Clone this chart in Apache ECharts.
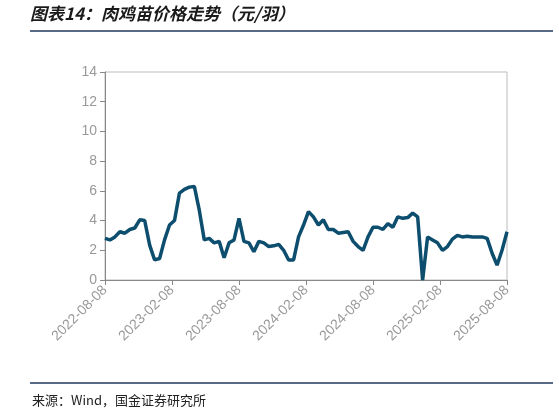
<!DOCTYPE html><html><head><meta charset="utf-8"><script src="https://cdn.jsdelivr.net/npm/echarts@6/dist/echarts.min.js"></script></head><body style="margin:0;background:#fff"><div id="c" style="width:559px;height:416px"></div><script>
const tickLabels=['2022-08-08','2023-02-08','2023-08-08','2024-02-08','2024-08-08','2025-02-08','2025-08-08'];
const prices=[2.8,2.7,2.9,3.25,3.15,3.4,3.5,4.05,4.0,2.35,1.35,1.45,2.7,3.7,4.0,5.85,6.1,6.25,6.3,4.7,2.7,2.8,2.5,2.6,1.5,2.5,2.7,4.15,2.6,2.5,1.9,2.6,2.5,2.25,2.3,2.4,2.0,1.35,1.35,2.9,3.7,4.6,4.25,3.7,4.05,3.4,3.4,3.15,3.2,3.25,2.6,2.25,2.0,2.9,3.55,3.55,3.4,3.8,3.55,4.25,4.15,4.2,4.5,4.25,0,2.9,2.7,2.5,2.0,2.25,2.75,3.0,2.9,2.95,2.9,2.9,2.9,2.8,1.8,1.0,2.0,3.25];
const n=prices.length;
const data=prices.map((v,i)=>[i*36/(n-1),v]);
const ch=echarts.init(document.getElementById('c'));
ch.setOption({
 animation:false,
 graphic:[
  {type:'text',left:30,top:5,style:{text:'图表14：肉鸡苗价格走势（元/羽）',font:'italic bold 17px "Noto Sans CJK SC"',fill:'#1a1a1a'}},
  {type:'line',shape:{x1:30,y1:31,x2:553,y2:31},style:{stroke:'#1f3a5f',lineWidth:1.5}},
  {type:'line',shape:{x1:30,y1:383,x2:553,y2:383},style:{stroke:'#1f3a5f',lineWidth:1.5}},
  {type:'text',left:32,top:394,style:{text:'来源：Wind，国金证券研究所',font:'13px "Noto Sans CJK SC"',fill:'#222'}}
 ],
 grid:{left:105,right:52,top:72,bottom:136,show:true,borderColor:'#bbb',borderWidth:1},
 xAxis:{type:'value',min:0,max:36,interval:6,splitLine:{show:false},
  axisLine:{lineStyle:{color:'#888'}},axisTick:{show:true,lineStyle:{color:'#888'}},
  axisLabel:{rotate:45,color:'#999',fontSize:14,fontFamily:'Arial',formatter:v=>tickLabels[Math.round(v/6)]}},
 yAxis:{type:'value',min:0,max:14,interval:2,splitLine:{show:false},
  axisLine:{show:true,lineStyle:{color:'#888'}},axisTick:{show:true,lineStyle:{color:'#888'}},
  axisLabel:{color:'#999',fontSize:14,fontFamily:'Arial'}},
 series:[{type:'line',data:data,showSymbol:false,lineStyle:{color:'#0d4e6e',width:3.5}}]
});
</script></body></html>
